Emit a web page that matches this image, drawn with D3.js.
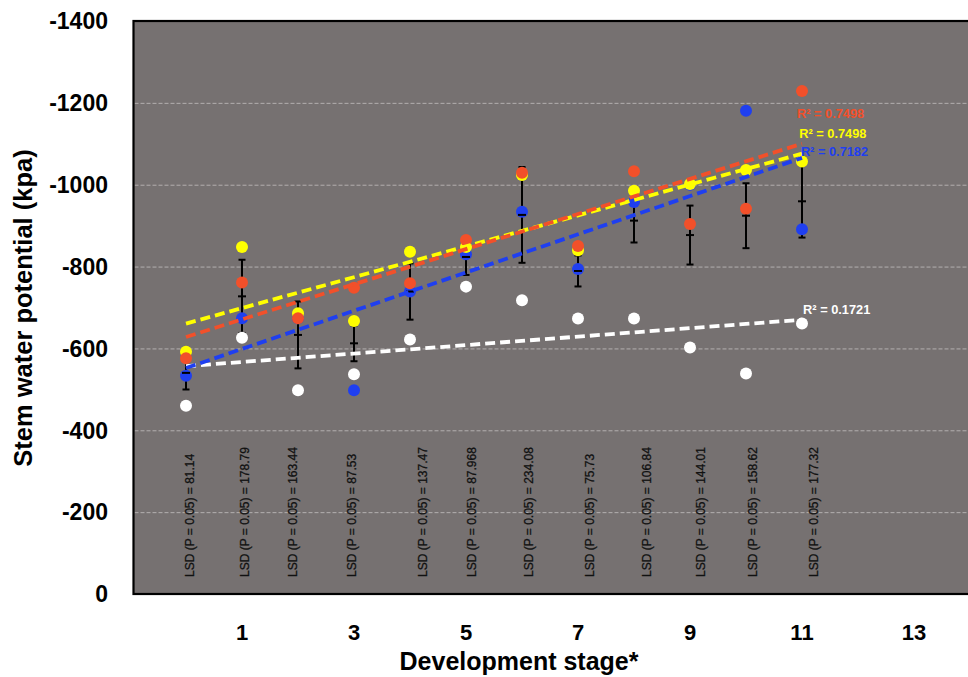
<!DOCTYPE html>
<html>
<head>
<meta charset="utf-8">
<script src="https://cdnjs.cloudflare.com/ajax/libs/d3/7.8.5/d3.min.js"></script>
<style>
	body { margin: 0; background: #ffffff; }
</style>
</head>
<body>
<div id="chart"></div>
<script>
"use strict";

// =============== DATA ===============
var stages = [0, 1, 2, 3, 4, 5, 6, 7, 8, 9, 10, 11];

// stem water potential (kpa) per treatment
var yellowVals = [-592, -848, -686, -667, -836, -848, -1024, -840, -985, -1002, -1036, -1057];
var redVals    = [-576, -761, -674, -748, -759, -865, -1029, -850, -1033, -904, -941, -1229];
var blueVals   = [-533, -674, -674, -498, -739, -830, -934, -794, -958, -1000, -1181, -891];
var whiteVals  = [-460, -626, -498, -537, -622, -751, -718, -673, -673, -602, -539, -661];

var lsdVals = [81.14, 178.79, 163.44, 87.53, 137.47, 87.968, 234.08, 75.73, 106.84, 144.01, 158.62, 177.32];
var lsdText = ["81.14", "178.79", "163.44", "87.53", "137.47", "87.968", "234.08", "75.73", "106.84", "144.01", "158.62", "177.32"];

var r2Text = ["0.7498", "0.7498", "0.7182", "0.1721"];

var yTicks = [0, -200, -400, -600, -800, -1000, -1200, -1400];
var xTicks = [1, 3, 5, 7, 9, 11, 13];

// =============== LAYOUT ===============
var width = 968,
	height = 677,
	plotLeft = 133.5,
	plotRight = 972;

// where the text boxes sit (stage units / kpa units)
var lsdLabelStage = [0.07, 1.05, 1.91, 2.96, 4.23, 5.11, 6.13, 7.21, 8.23, 9.2, 10.13, 11.21];
var r2Anchor = [[10.91, -1164], [10.95, -1113], [10.98, -1071], [11.02, -685]];

var series = [
	{name: "white",  vals: whiteVals,  color: "#ffffff"},
	{name: "blue",   vals: blueVals,   color: "#1f3ff0"},
	{name: "yellow", vals: yellowVals, color: "#ffff00"},
	{name: "red",    vals: redVals,    color: "#f2502a"}
];
var r2Order = ["red", "yellow", "blue", "white"];

var svg = d3.select("#chart").append("svg")
	.attr("width", width)
	.attr("height", height)
	.style("display", "block");

var x = d3.scaleLinear().domain([0, 11]).range([186, 802]);
var y = d3.scaleLinear().domain([0, -1400]).range([594, 21]);

var boldFont = "'Liberation Sans', Arial, sans-serif";

// plot background
svg.append("rect")
	.attr("x", plotLeft)
	.attr("y", y(-1400))
	.attr("width", plotRight - plotLeft)
	.attr("height", y(0) - y(-1400))
	.attr("fill", "#767171");

// gridlines
svg.append("g").selectAll("line")
	.data(yTicks.filter(function(d){ return d != 0 && d != -1400; }))
	.enter().append("line")
	.attr("x1", plotLeft + 1)
	.attr("x2", plotRight)
	.attr("y1", function(d){ return y(d) + 0.5; })
	.attr("y2", function(d){ return y(d) + 0.5; })
	.attr("stroke", "#b3afaf")
	.attr("stroke-width", 1)
	.attr("stroke-dasharray", "4,2");

// plot border
svg.append("rect")
	.attr("x", plotLeft)
	.attr("y", y(-1400))
	.attr("width", plotRight - plotLeft)
	.attr("height", y(0) - y(-1400))
	.attr("fill", "none")
	.attr("stroke", "#000000")
	.attr("stroke-width", 2.2);

// LSD text boxes
svg.append("g").selectAll("text")
	.data(lsdText)
	.enter().append("text")
	.attr("transform", function(d, i){
		return "translate(" + x(lsdLabelStage[i]) + ",577) rotate(-90)";
	})
	.attr("dy", "0.35em")
	.style("font-family", "'Liberation Sans', Arial, sans-serif")
	.style("font-size", "12px")
	.style("fill", "#111111")
	.style("stroke", "#111111")
	.style("stroke-width", "0.3px")
	.text(function(d){ return "LSD (P = 0.05) = " + d; });

// error bars around the mean of the four treatments, +/- LSD/2
var means = stages.map(function(s, i){
	return d3.mean(series, function(se){ return se.vals[i]; });
});

var errG = svg.append("g")
	.attr("stroke", "#000000")
	.attr("stroke-width", 2);
errG.selectAll("line.bar")
	.data(stages)
	.enter().append("line")
	.attr("class", "bar")
	.attr("x1", function(d){ return x(d); })
	.attr("x2", function(d){ return x(d); })
	.attr("y1", function(d, i){ return y(means[i] - lsdVals[i] / 2); })
	.attr("y2", function(d, i){ return y(means[i] + lsdVals[i] / 2); });
[-1, 1].forEach(function(sign){
	errG.selectAll("line.cap" + (sign + 1))
		.data(stages)
		.enter().append("line")
		.attr("class", "cap" + (sign + 1))
		.attr("x1", function(d){ return x(d) - 3.5; })
		.attr("x2", function(d){ return x(d) + 3.5; })
		.attr("y1", function(d, i){ return y(means[i] + sign * lsdVals[i] / 2); })
		.attr("y2", function(d, i){ return y(means[i] + sign * lsdVals[i] / 2); });
});

// points
series.forEach(function(se){
	svg.append("g").selectAll("circle")
		.data(se.vals)
		.enter().append("circle")
		.attr("cx", function(d, i){ return x(stages[i]); })
		.attr("cy", function(d){ return y(d); })
		.attr("r", 6)
		.attr("fill", se.color);
});

// mean markers (dash)
svg.append("g").selectAll("line")
	.data(means)
	.enter().append("line")
	.attr("x1", function(d, i){ return x(stages[i]) - 4; })
	.attr("x2", function(d, i){ return x(stages[i]) + 4; })
	.attr("y1", function(d){ return y(d); })
	.attr("y2", function(d){ return y(d); })
	.attr("stroke", "#000000")
	.attr("stroke-width", 2);

// linear trendlines
function linFit(vals){
	var xm = d3.mean(stages), ym = d3.mean(vals);
	var sxy = d3.sum(stages, function(s, i){ return (s - xm) * (vals[i] - ym); });
	var sxx = d3.sum(stages, function(s){ return (s - xm) * (s - xm); });
	var slope = sxy / sxx;
	return {slope: slope, icpt: ym - slope * xm};
}

var xMin = d3.min(stages), xMax = d3.max(stages);
series.forEach(function(se){
	var f = linFit(se.vals);
	svg.append("line")
		.attr("x1", x(xMin))
		.attr("x2", x(xMax))
		.attr("y1", y(f.icpt + f.slope * xMin))
		.attr("y2", y(f.icpt + f.slope * xMax))
		.attr("stroke", se.color)
		.attr("stroke-width", 3.8)
		.attr("stroke-dasharray", "10,5");
});

// R² labels
svg.append("g").selectAll("text")
	.data(r2Text)
	.enter().append("text")
	.attr("x", function(d, i){ return x(r2Anchor[i][0]); })
	.attr("y", function(d, i){ return y(r2Anchor[i][1]); })
	.style("font-family", boldFont)
	.style("font-weight", "bold")
	.style("font-size", "12.8px")
	.style("fill", function(d, i){
		var nm = r2Order[i];
		return series.filter(function(se){ return se.name == nm; })[0].color;
	})
	.text(function(d){ return "R\u00b2 = " + d; });

// y axis tick labels
svg.append("g").selectAll("text")
	.data(yTicks)
	.enter().append("text")
	.attr("x", 108)
	.attr("y", function(d){ return y(d); })
	.attr("dy", "0.36em")
	.attr("text-anchor", "end")
	.style("font-family", boldFont)
	.style("font-weight", "bold")
	.style("font-size", "23px")
	.style("fill", "#000000")
	.text(function(d){ return d; });

// x axis tick labels
svg.append("g").selectAll("text")
	.data(xTicks)
	.enter().append("text")
	.attr("x", function(d){ return x(d); })
	.attr("y", 640)
	.attr("text-anchor", "middle")
	.style("font-family", boldFont)
	.style("font-weight", "bold")
	.style("font-size", "22px")
	.style("fill", "#000000")
	.text(function(d){ return d; });

// axis titles
svg.append("text")
	.attr("x", 519)
	.attr("y", 670)
	.attr("text-anchor", "middle")
	.style("font-family", boldFont)
	.style("font-weight", "bold")
	.style("font-size", "25px")
	.text("Development stage*");

svg.append("text")
	.attr("transform", "translate(23,308) rotate(-90)")
	.attr("dy", "0.35em")
	.attr("text-anchor", "middle")
	.style("font-family", boldFont)
	.style("font-weight", "bold")
	.style("font-size", "25.5px")
	.text("Stem water potential (kpa)");
</script>
</body>
</html>
